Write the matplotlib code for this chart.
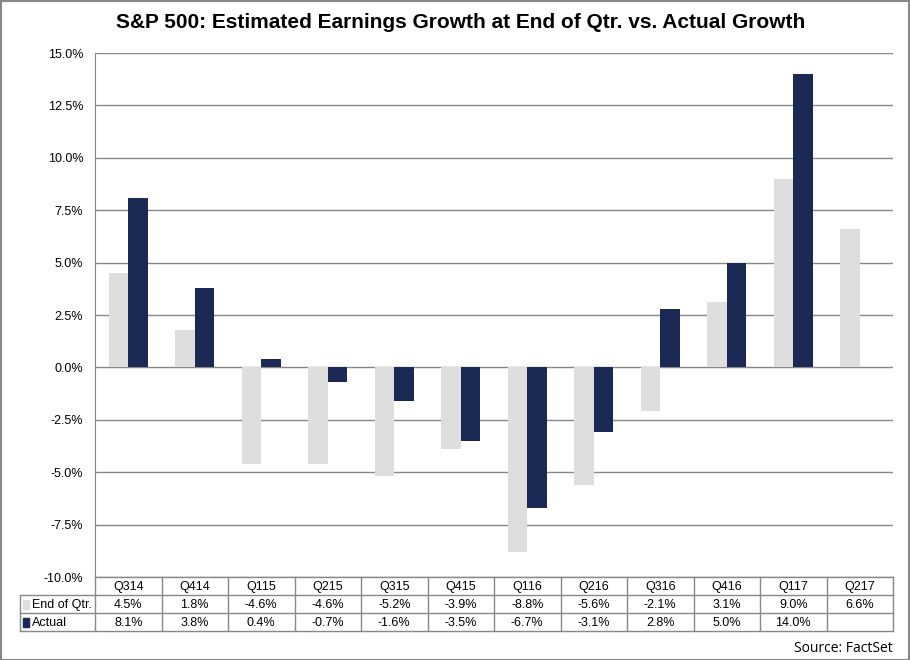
import matplotlib
matplotlib.use("Agg")
import matplotlib.pyplot as plt
from matplotlib.patches import Rectangle

quarters = ["Q314", "Q414", "Q115", "Q215", "Q315", "Q415", "Q116", "Q216", "Q316", "Q416", "Q117", "Q217"]
end_of_qtr = [4.5, 1.8, -4.6, -4.6, -5.2, -3.9, -8.8, -5.6, -2.1, 3.1, 9.0, 6.6]
actual = [8.1, 3.8, 0.4, -0.7, -1.6, -3.5, -6.7, -3.1, 2.8, 5.0, 14.0, None]
series_names = ["End of Qtr.", "Actual"]
yticks = [-10.0, -7.5, -5.0, -2.5, 0.0, 2.5, 5.0, 7.5, 10.0, 12.5, 15.0]

GRAY = "#DEDEDE"
NAVY = "#1A2A55"
LINE = "#888888"

plt.rcParams['font.family'] = ['Liberation Sans', 'DejaVu Sans']

W, H = 910, 660
fig = plt.figure(figsize=(W / 100, H / 100), dpi=100)

# pixel layout
px_l, px_r, px_t, px_b = 95, 893, 53, 577
row_h = 18
lab_l = 20

ax = fig.add_axes([px_l / W, 1 - px_b / H, (px_r - px_l) / W, (px_b - px_t) / H])
n = len(quarters)
x = list(range(n))
bw = 0.29
ax.bar([i - bw / 2 for i in x], end_of_qtr, width=bw, color=GRAY, zorder=3)
ax.bar([i + bw / 2 for i in x if actual[i] is not None],
       [v for v in actual if v is not None], width=bw, color=NAVY, zorder=3)
ax.set_xlim(-0.5, n - 0.5)
ax.set_ylim(-10, 15)
ax.set_yticks(yticks)
ax.set_yticklabels([f"{v:.1f}%" for v in yticks], fontsize=9)
ax.set_xticks([])
ax.tick_params(axis="y", length=0, pad=8.5)
ax.grid(axis="y", color=LINE, linewidth=1, zorder=0)
for s in ["top", "right", "bottom"]:
    ax.spines[s].set_visible(False)
ax.spines["left"].set_color(LINE)

# data table
cw = (px_r - px_l) / n
tab = fig.add_axes([lab_l / W, 1 - (px_b + 3 * row_h) / H, (px_r - lab_l) / W, 3 * row_h / H])
x0 = -0.5 - (px_l - lab_l) / cw
tab.set_xlim(x0, n - 0.5)
tab.set_ylim(3, 0)
tab.axis("off")
lk = dict(color=LINE, linewidth=1, clip_on=False)
# horizontal lines
tab.plot([-0.5, n - 0.5], [0, 0], **lk)
for r in [1, 2, 3]:
    tab.plot([x0, n - 0.5], [r, r], **lk)
# vertical lines
for i in range(n + 1):
    tab.plot([i - 0.5, i - 0.5], [0, 3], **lk)
tab.plot([x0, x0], [1, 3], **lk)
for i, q in enumerate(quarters):
    tab.text(i, 0.55, q, ha="center", va="center", fontsize=9)
    tab.text(i, 1.55, f"{end_of_qtr[i]:.1f}%", ha="center", va="center", fontsize=9)
    if actual[i] is not None:
        tab.text(i, 2.55, f"{actual[i]:.1f}%", ha="center", va="center", fontsize=9)
for r, (name, c) in enumerate(zip(series_names, [GRAY, NAVY])):
    tab.add_patch(Rectangle((x0 + 0.04, r + 1.3), 0.1, 0.45, color=c, clip_on=False))
    tab.text(x0 + 0.18, r + 1.55, name, ha="left", va="center", fontsize=9)

fig.text(461 / W, 1 - 22 / H, "S&P 500: Estimated Earnings Growth at End of Qtr. vs. Actual Growth",
         ha="center", va="center", fontsize=15, fontweight="bold")
fig.text(px_r / W, 1 - 648 / H, "Source: FactSet", ha="right", va="center",
         fontsize=10, family=["Open Sans", "DejaVu Sans"])

# outer border
fig.add_artist(Rectangle((0.5 / W, 0.5 / H), 1 - 1.5 / W, 1 - 1.5 / H, transform=fig.transFigure,
                         fill=False, edgecolor=LINE, linewidth=1.5))

fig.savefig("out.png", dpi=100)
